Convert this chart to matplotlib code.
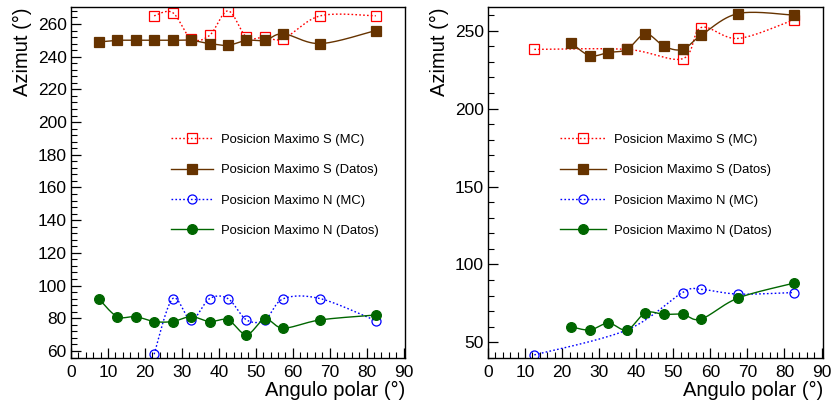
import matplotlib
matplotlib.use('Agg')
import matplotlib.pyplot as plt
from matplotlib.ticker import MultipleLocator
import numpy as np

plt.rcParams['font.family'] = ['Liberation Sans', 'DejaVu Sans']

# left panel
xL_S_mc = [22.5, 27.5, 32.5, 37.5, 42.5, 47.5, 52.5, 57.5, 67.5, 82.5]
yL_S_mc = [265, 267, 251, 253, 268, 252, 252, 251, 265, 265]
xL_S_dat = [7.5, 12.5, 17.5, 22.5, 27.5, 32.5, 37.5, 42.5, 47.5, 52.5, 57.5, 67.5, 82.5]
yL_S_dat = [249, 250, 250, 250, 250, 250, 248, 247, 250, 250, 254, 248, 256]
xL_N_mc = [22.5, 27.5, 32.5, 37.5, 42.5, 47.5, 52.5, 57.5, 67.5, 82.5]
yL_N_mc = [58, 92, 79, 92, 92, 79, 79, 92, 92, 78.5]
xL_N_dat = [7.5, 12.5, 17.5, 22.5, 27.5, 32.5, 37.5, 42.5, 47.5, 52.5, 57.5, 67.5, 82.5]
yL_N_dat = [92, 81, 81, 78, 78, 81, 78, 79, 70, 79.5, 74, 79, 82]

# right panel
xR_S_mc = [12.5, 37.5, 52.5, 57.5, 67.5, 82.5]
yR_S_mc = [238, 238, 232, 252, 245, 257]
xR_S_dat = [22.5, 27.5, 32.5, 37.5, 42.5, 47.5, 52.5, 57.5, 67.5, 82.5]
yR_S_dat = [242, 234, 236, 238, 248, 240, 238, 247, 261, 260]
xR_N_mc = [12.5, 37.5, 52.5, 57.5, 67.5, 82.5]
yR_N_mc = [42, 58, 82, 84, 81, 82]
xR_N_dat = [22.5, 27.5, 32.5, 37.5, 42.5, 47.5, 52.5, 57.5, 67.5, 82.5]
yR_N_dat = [60, 58, 62.4, 58, 69, 68, 68, 65, 78.5, 88]

labels = ['Posicion Maximo S (MC)', 'Posicion Maximo S (Datos)',
          'Posicion Maximo N (MC)', 'Posicion Maximo N (Datos)']


def smooth(x, y, n=30):
    # catmull-rom curve through the points
    p = np.column_stack([x, y]).astype(float)
    p = np.vstack([p[0], p, p[-1]])
    out = []
    t = np.linspace(0, 1, n)[:, None]
    for i in range(1, len(p) - 2):
        p0, p1, p2, p3 = p[i - 1], p[i], p[i + 1], p[i + 2]
        c = 0.5 * ((2 * p1) + (-p0 + p2) * t + (2 * p0 - 5 * p1 + 4 * p2 - p3) * t ** 2
                   + (-p0 + 3 * p1 - 3 * p2 + p3) * t ** 3)
        out.append(c)
    c = np.vstack(out)
    return c[:, 0], c[:, 1]


def draw(ax, x, y, color, ls, marker, filled, ms):
    cx, cy = smooth(x, y)
    ax.plot(cx, cy, color=color, linestyle=ls, linewidth=1.0)
    fc = color if filled else 'none'
    ax.plot(x, y, linestyle='none', marker=marker, markersize=ms,
            markerfacecolor=fc, markeredgecolor=color, markeredgewidth=0.9)
    # legend proxy
    h, = ax.plot([], [], color=color, linestyle=ls, linewidth=1.0, marker=marker,
                 markersize=ms, markerfacecolor=fc, markeredgecolor=color,
                 markeredgewidth=0.9)
    return h


dotted = (0, (1.2, 1.6))
fig = plt.figure(figsize=(8.33, 4.13), dpi=100)
axL = fig.add_axes([71 / 833, 1 - 358 / 413, 334 / 833, 350.7 / 413])
axR = fig.add_axes([488 / 833, 1 - 358 / 413, 335 / 833, 350.7 / 413])

hL = [draw(axL, xL_S_mc, yL_S_mc, '#ff0000', dotted, 's', False, 6.5),
      draw(axL, xL_S_dat, yL_S_dat, '#663300', '-', 's', True, 6.5),
      draw(axL, xL_N_mc, yL_N_mc, '#0000ff', dotted, 'o', False, 6.5),
      draw(axL, xL_N_dat, yL_N_dat, '#006600', '-', 'o', True, 7)]
hR = [draw(axR, xR_S_mc, yR_S_mc, '#ff0000', dotted, 's', False, 6.5),
      draw(axR, xR_S_dat, yR_S_dat, '#663300', '-', 's', True, 6.5),
      draw(axR, xR_N_mc, yR_N_mc, '#0000ff', dotted, 'o', False, 6.5),
      draw(axR, xR_N_dat, yR_N_dat, '#006600', '-', 'o', True, 7)]

axL.set_ylim(55.7, 270.2)
axR.set_ylim(40, 265)
axL.yaxis.set_major_locator(MultipleLocator(20))
axL.yaxis.set_minor_locator(MultipleLocator(4))
axR.yaxis.set_major_locator(MultipleLocator(50))
axR.yaxis.set_minor_locator(MultipleLocator(10))

for ax in [axL, axR]:
    ax.set_xlim(0, 90.4)
    ax.xaxis.set_major_locator(MultipleLocator(10))
    ax.xaxis.set_minor_locator(MultipleLocator(2))
    ax.tick_params(which='both', direction='in', labelsize=12.5, top=False, right=False)
    ax.tick_params(which='major', length=7, width=0.9)
    ax.tick_params(which='minor', length=4, width=0.8)
    ax.tick_params(axis='x', pad=5)
    ax.tick_params(axis='y', pad=3)
    for s in ax.spines.values():
        s.set_linewidth(1.0)
    ax.set_xlabel('Angulo polar (°)', fontsize=14.5, loc='right', labelpad=1)
    ax.set_ylabel('Azimut (°)', fontsize=14.5, loc='top')

axL.legend(hL, labels, loc='upper left', bbox_to_anchor=(0.3, 0.64), frameon=False,
           fontsize=9.4, handlelength=3.2, handletextpad=0.6, labelspacing=1.4,
           borderpad=0, borderaxespad=0)
axR.legend(hR, labels, loc='upper left', bbox_to_anchor=(0.215, 0.64), frameon=False,
           fontsize=9.4, handlelength=3.5, handletextpad=0.6, labelspacing=1.4,
           borderpad=0, borderaxespad=0)

fig.savefig('out.png', dpi=100)
